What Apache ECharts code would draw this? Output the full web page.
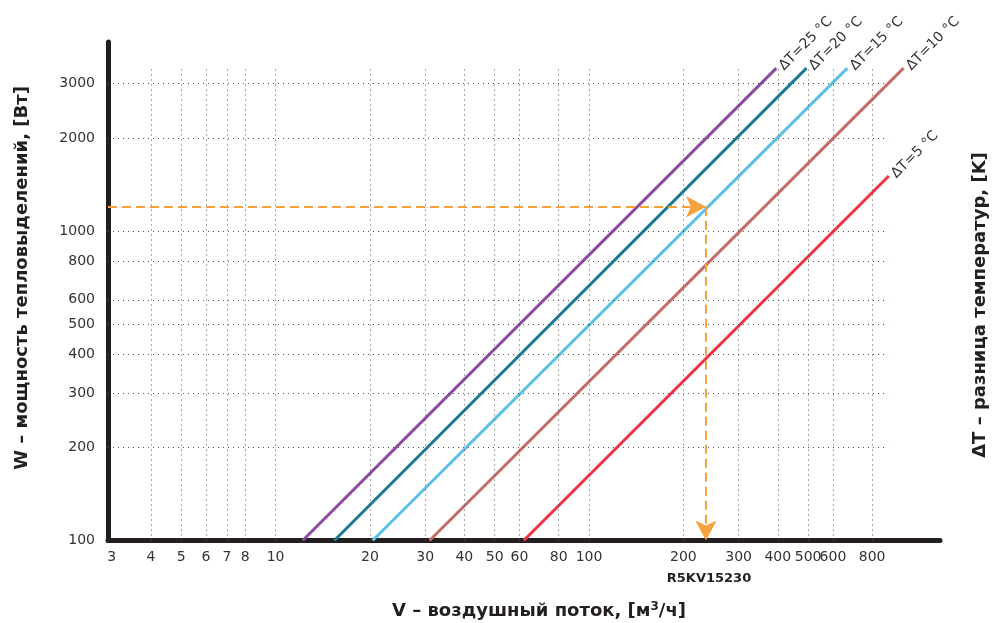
<!DOCTYPE html>
<html><head><meta charset="utf-8">
<script src="https://cdn.jsdelivr.net/npm/echarts@6/dist/echarts.min.js"></script>
<style>html,body{margin:0;padding:0;background:#fff}#c{width:992px;height:623px}</style>
</head><body><div id="c"></div>
<script>
// ---- data ----
const deltaT = [25, 20, 15, 10, 5];
const startFlow = [12.2, 15.4, 20.4, 31.0, 61.9];
const startPower = [100, 100, 100, 100, 100];
const endFlow = [396, 494, 667, 1008, 904];
const endPower = [3368, 3368, 3368, 3368, 1508];
const xTicks = [3, 4, 5, 6, 7, 8, 10, 20, 30, 40, 50, 60, 80, 100, 200, 300, 400, 500, 600, 800];
const yTicks = [100, 200, 300, 400, 500, 600, 800, 1000, 2000, 3000];
const xGridValues = [4, 5, 6, 7, 8, 10, 20, 30, 40, 50, 60, 80, 100, 200, 300, 400, 500, 600, 800];
const yGridValues = [200, 300, 400, 500, 600, 800, 1000, 2000, 3000];
const gridTopPower = 3350;
const gridRightFlow = 900;
const exampleFlow = 236;
const examplePower = 1200;
const xMin = 2.92, xMax = 1317, yMin = 100, yMax = 4090;

const lineColors = ['#8a4a9f', '#1c7a93', '#5cc0e6', '#c76a6a', '#ee3340'];
const FONT = 'DejaVu Sans';

const chart = echarts.init(document.getElementById('c'), null, {renderer: 'canvas'});

const gridLines = [];
xGridValues.forEach(v => gridLines.push([{coord: [v, yMin]}, {coord: [v, gridTopPower]}]));
yGridValues.forEach(v => gridLines.push([{coord: [xMin, v]}, {coord: [gridRightFlow, v]}]));

const series = deltaT.map((dt, i) => ({
  type: 'line',
  z: 3,
  symbolSize: 0,
  showSymbol: true,
  lineStyle: {color: lineColors[i], width: 3},
  itemStyle: {color: lineColors[i]},
  data: [
    [startFlow[i], startPower[i]],
    {value: [endFlow[i], endPower[i]],
     label: {show: true, position: 'right', distance: 5, rotate: 45,
             formatter: 'ΔT=' + dt + ' °C', color: '#333', fontSize: 14, fontFamily: FONT}}
  ],
  animation: false
}));

series.push({
  type: 'line', data: [], z: 1, animation: false,
  markLine: {
    silent: true, symbol: ['none', 'none'], animation: false,
    label: {show: false},
    lineStyle: {color: '#555', width: 1, type: [1, 4]},
    data: gridLines
  }
});

series.push({
  type: 'line', data: [], z: 4, animation: false,
  markLine: {
    silent: true, symbol: ['none', 'arrow'], symbolSize: [16, 20], animation: false,
    label: {show: false},
    lineStyle: {color: '#f5a23c', width: 2, type: [9, 5]},
    data: [
      [{coord: [xMin, examplePower]}, {coord: [exampleFlow, examplePower]}],
      [{coord: [exampleFlow, examplePower]}, {coord: [exampleFlow, yMin]}]
    ]
  }
});

chart.setOption({
  backgroundColor: '#fff',
  animation: false,
  grid: {left: 108, right: 52, top: 42, bottom: 82.5},
  xAxis: {
    type: 'log', min: xMin, max: xMax,
    axisLine: {show: true, lineStyle: {color: '#231f20', width: 5, cap: 'round'}},
    axisTick: {show: false},
    splitLine: {show: false},
    axisLabel: {customValues: xTicks, formatter: v => String(v), color: '#333', fontSize: 14, fontFamily: FONT, margin: 10}
  },
  yAxis: {
    type: 'log', min: yMin, max: yMax,
    axisLine: {show: true, lineStyle: {color: '#231f20', width: 5, cap: 'round'}},
    axisTick: {show: false},
    splitLine: {show: false},
    axisLabel: {customValues: yTicks, formatter: v => String(v), color: '#333', fontSize: 14, fontFamily: FONT, margin: 13}
  },
  graphic: [
    {type: 'text', x: 22, y: 278, rotation: Math.PI / 2,
     style: {text: 'W – мощность тепловыделений, [Вт]', fill: '#231f20', font: 'bold 18px "DejaVu Sans"', align: 'center', verticalAlign: 'middle'}},
    {type: 'text', x: 980, y: 305, rotation: Math.PI / 2,
     style: {text: 'ΔT – разница температур, [K]', fill: '#231f20', font: 'bold 18px "DejaVu Sans"', align: 'center', verticalAlign: 'middle'}},
    {type: 'text', x: 539, y: 611,
     style: {text: '{a|V – воздушный поток, [м}{s|3}{a|/ч]}', align: 'center', verticalAlign: 'middle',
       rich: {a: {font: 'bold 18px "DejaVu Sans"', fill: '#231f20', color: '#231f20'},
              s: {font: 'bold 12px "DejaVu Sans"', fill: '#231f20', color: '#231f20', verticalAlign: 'top', padding: [0, 0, 9, 0]}}}},
    {type: 'text', x: 709, y: 579,
     style: {text: 'R5KV15230', fill: '#231f20', font: 'bold 13px "DejaVu Sans"', align: 'center', verticalAlign: 'middle'}}
  ],
  series: series
});
</script></body></html>
